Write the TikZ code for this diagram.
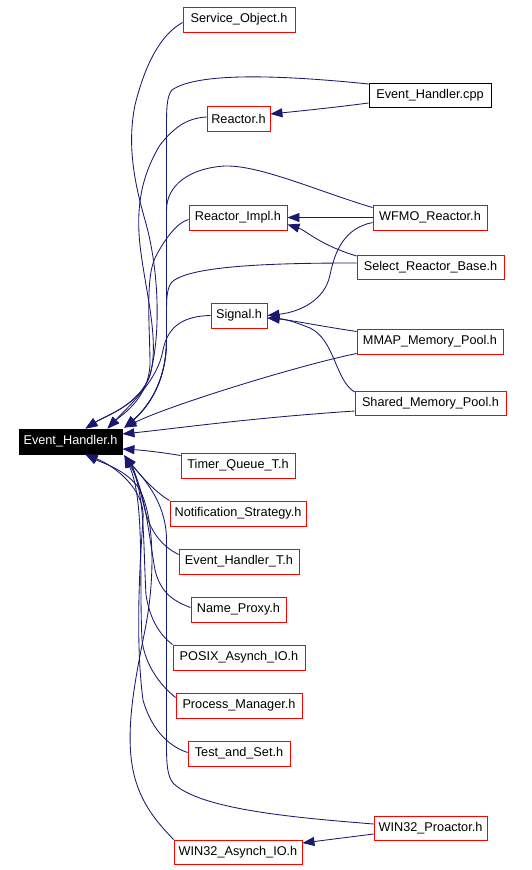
\documentclass[tikz,border=0pt]{standalone}
\usepackage{fontspec}
\setmainfont{Liberation Sans}
\usetikzlibrary{arrows.meta}
\definecolor{edgeblue}{HTML}{191970}
\begin{document}
\begin{tikzpicture}[x=1pt,y=-1pt,
  file/.style={draw=red, fill=white, line width=0.9pt, inner sep=0pt, minimum height=25pt, font=\fontsize{12.7}{14}\selectfont, text=black},
  mainfile/.style={file, draw=black, fill=black, text=white},
  plainfile/.style={file, draw=black},
  dep/.style={draw=edgeblue, line width=0.85pt, -{Triangle[length=12pt,width=9pt]}}
]
\useasboundingbox[fill=white] (0,0) rectangle (531,870);

% nodes
\node[mainfile, minimum width=103pt] (EH) at (70.5,441.5) {Event\_Handler.h};
\node[file, minimum width=112pt] (SO) at (239,19.5) {Service\_Object.h};
\node[plainfile, minimum width=122pt, minimum height=24pt] (EHcpp) at (430,95) {Event\_Handler.cpp};
\node[file, minimum width=63pt] (R) at (238.5,119) {Reactor.h};
\node[file, minimum width=98pt] (RI) at (238,217.5) {Reactor\_Impl.h};
\node[file, minimum width=114pt] (WFMO) at (430,217.5) {WFMO\_Reactor.h};
\node[file, minimum width=147pt, minimum height=24pt] (SRB) at (430.5,267) {Select\_Reactor\_Base.h};
\node[file, minimum width=56pt] (Sig) at (239,315.5) {Signal.h};
\node[file, minimum width=146pt] (MMAP) at (430,341.5) {MMAP\_Memory\_Pool.h};
\node[file, minimum width=151pt, minimum height=24pt] (SMP) at (430.5,403) {Shared\_Memory\_Pool.h};
\node[file, minimum width=114pt] (TQ) at (238,465.5) {Timer\_Queue\_T.h};
\node[file, minimum width=136pt] (NS) at (238,513.5) {Notification\_Strategy.h};
\node[file, minimum width=120pt] (EHT) at (239,561.5) {Event\_Handler\_T.h};
\node[file, minimum width=95pt] (NP) at (238.5,609.5) {Name\_Proxy.h};
\node[file, minimum width=132pt] (PAIO) at (239,657.5) {POSIX\_Asynch\_IO.h};
\node[file, minimum width=126pt] (PM) at (239,705.5) {Process\_Manager.h};
\node[file, minimum width=102pt] (TS) at (239,753.5) {Test\_and\_Set.h};
\node[file, minimum width=113pt, minimum height=24pt] (W32P) at (430.5,828) {WIN32\_Proactor.h};
\node[file, minimum width=128pt, minimum height=24pt] (W32A) at (238,852) {WIN32\_Asynch\_IO.h};

% arrow targets on Event_Handler.h
\coordinate (tA) at ([xshift=15]EH.north);
\coordinate (tB) at ([xshift=37]EH.north);
\coordinate (tC) at ([xshift=2,yshift=1]EH.north east);
\coordinate (tD) at ([yshift=7.5]EH.east);
\coordinate (tE) at ([yshift=-7.5]EH.east);
\coordinate (tF) at ([xshift=15]EH.south);
\coordinate (tG) at ([xshift=2,yshift=-1]EH.south east);

% edges into Event_Handler.h from above
\draw[dep] ([yshift=-3]SO.west) .. controls (160,35) and (145,65) .. (135,105)
   .. controls (128,140) and (132,175) .. (145,220)
   .. controls (158,265) and (162,330) .. (150,375)
   .. controls (140,405) and (105,416) .. (tA);
\draw[dep] ([yshift=11]EHcpp.west) .. controls (300,77) and (200,70) .. (172,90)
   .. controls (166.5,96) and (166.5,110) .. (166.5,130) -- (166.5,340)
   .. controls (166.5,385) and (145,410) .. (tC);
\draw[dep] ([yshift=-8]EHcpp.west) .. controls (330,108) and (300,111) .. ([yshift=5]R.east);
\draw[dep] ([yshift=2]R.west) .. controls (185,118) and (172,130) .. (160,145)
   .. controls (145,170) and (135,200) .. (140,245)
   .. controls (145,290) and (160,340) .. (150,375)
   .. controls (140,405) and (105,416) .. (tA);
\draw[dep] ([yshift=10]WFMO.west) .. controls (320,192) and (260,165) .. (225,166)
   .. controls (190,168) and (166.5,185) .. (166.5,210) -- (166.5,340)
   .. controls (166.5,385) and (145,410) .. (tC);
\draw[dep] (WFMO.west) -- (RI.east);
\draw[dep] ([yshift=-5]WFMO.west) .. controls (345,228) and (335,250) .. (330,275)
   .. controls (325,300) and (300,312) .. ([yshift=0]Sig.east);
\draw[dep] ([yshift=-2]RI.west) .. controls (178,222) and (165,238) .. (155,258)
   .. controls (145,280) and (150,330) .. (150,365)
   .. controls (148,400) and (120,416) .. (tB);
\draw[dep] ([yshift=11]SRB.west) .. controls (320,245) and (305,230) .. ([yshift=-7]RI.east);
\draw[dep] ([yshift=4]SRB.west) .. controls (280,263) and (190,265) .. (172,282)
   .. controls (166.5,288) and (166.5,300) .. (166.5,315) -- (166.5,340)
   .. controls (166.5,385) and (145,410) .. (tC);
\draw[dep] (Sig.west) .. controls (185,316) and (168,325) .. (163,350)
   .. controls (158,380) and (130,405) .. (tB);
\draw[dep] ([yshift=10]MMAP.west) .. controls (320,326) and (290,320) .. ([yshift=-2.5]Sig.east);
\draw[dep] ([yshift=-12]MMAP.west) .. controls (300,365) and (170,405) .. (tC);
\draw[dep] ([yshift=11]SMP.west) .. controls (335,380) and (335,340) .. (310,328)
   .. controls (295,322) and (285,319) .. ([yshift=-2.5]Sig.east);
\draw[dep] ([yshift=-8]SMP.west) .. controls (250,418) and (180,428) .. (tD);

% edges into Event_Handler.h from below
\draw[dep] ([yshift=10]TQ.west) .. controls (160,452) and (140,450) .. (tE);
\draw[dep] (NS.north west) .. controls (155,492) and (140,475) .. (tG);
\draw[dep] ([yshift=7]EHT.west) .. controls (160,545) and (150,530) .. (145,510)
   .. controls (140,490) and (135,470) .. (tG);
\draw[dep] ([yshift=2]NP.west) .. controls (170,600) and (160,590) .. (155,570)
   .. controls (148,530) and (145,490) .. (tG);
\draw[dep] (PAIO.north west) .. controls (160,635) and (150,620) .. (146,595)
   .. controls (143,540) and (145,490) .. (tG);
\draw[dep] ([yshift=8]PM.west) .. controls (160,685) and (145,665) .. (142,640)
   .. controls (139,580) and (145,500) .. (tG);
\draw[dep] ([yshift=1]TS.west) .. controls (165,745) and (150,725) .. (143,700)
   .. controls (135,640) and (140,560) .. (143,520)
   .. controls (146,490) and (115,466) .. (tF);
\draw[dep] ([yshift=4]W32P.west) .. controls (300,818) and (200,810) .. (173,783)
   .. controls (167.5,776) and (166.5,765) .. (166.5,745) -- (166.5,540)
   .. controls (166.5,500) and (140,475) .. (tG);
\draw[dep] ([yshift=-6]W32P.west) -- ([yshift=9]W32A.east);
\draw[dep] (W32A.north west) .. controls (160,825) and (140,805) .. (133,770)
   .. controls (125,730) and (135,680) .. (145,630)
   .. controls (155,580) and (155,520) .. (140,490)
   .. controls (128,470) and (100,462) .. (tF);
\end{tikzpicture}
\end{document}
